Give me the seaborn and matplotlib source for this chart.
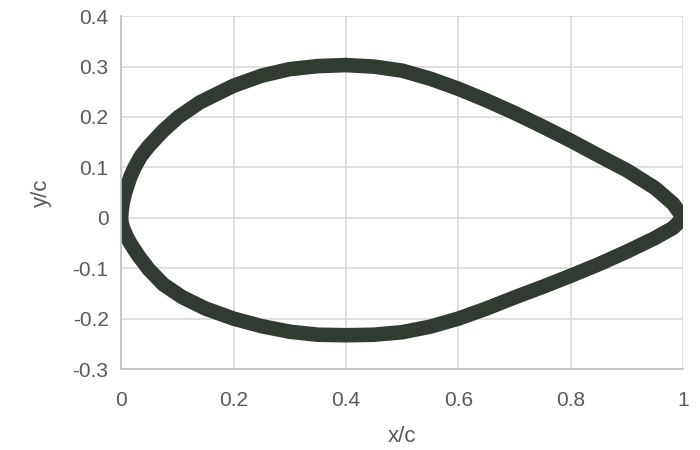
import numpy as np
import pandas as pd
import seaborn as sns
import matplotlib.pyplot as plt

# upper surface, leading edge -> trailing edge
x_upper = [0.0, 0.001, 0.003, 0.006, 0.01, 0.016, 0.024, 0.035, 0.049, 0.075, 0.102, 0.14, 0.2,
           0.25, 0.3, 0.35, 0.4, 0.45, 0.5, 0.55, 0.6, 0.65, 0.7, 0.75, 0.8, 0.852, 0.9, 0.95,
           0.982, 1.0]
y_upper = [0.0, 0.015, 0.03, 0.045, 0.06, 0.08, 0.1, 0.122, 0.142, 0.173, 0.2, 0.229, 0.262,
           0.282, 0.295, 0.301, 0.303, 0.3, 0.292, 0.276, 0.256, 0.233, 0.208, 0.181, 0.153, 0.122,
           0.094, 0.059, 0.028, 0.0]

# lower surface, leading edge -> trailing edge
x_lower = [0.0, 0.001, 0.004, 0.009, 0.016, 0.03, 0.049, 0.075, 0.108, 0.15, 0.2, 0.25, 0.3,
           0.35, 0.4, 0.45, 0.5, 0.55, 0.6, 0.65, 0.7, 0.75, 0.8, 0.85, 0.9, 0.95, 0.982, 1.0]
y_lower = [0.0, -0.011, -0.022, -0.035, -0.05, -0.074, -0.102, -0.132, -0.157, -0.18, -0.2,
           -0.215, -0.226, -0.232, -0.233, -0.232, -0.227, -0.216, -0.2, -0.18, -0.158, -0.137,
           -0.115, -0.092, -0.067, -0.04, -0.02, 0.0]

# one closed path: trailing edge -> upper -> leading edge -> lower -> trailing edge
df = pd.DataFrame({
    'x': x_upper[::-1] + x_lower[1:],
    'y': y_upper[::-1] + y_lower[1:],
})

sns.set_theme(style="whitegrid")
plt.rcParams['font.family'] = ['Liberation Sans', 'DejaVu Sans']

fig, ax = plt.subplots(figsize=(7, 4.5), dpi=100)
fig.subplots_adjust(left=0.173, right=0.976, top=0.964, bottom=0.18)

sns.lineplot(data=df, x='x', y='y', sort=False, estimator=None, ax=ax,
             color='#323b31', linewidth=10.5, solid_joinstyle='round', solid_capstyle='round')

ax.set_xlim(0, 1)
ax.set_ylim(-0.3, 0.4)
ax.set_xticks(np.arange(0, 1.01, 0.2))
ax.set_yticks(np.arange(-0.3, 0.41, 0.1))
ax.set_xticklabels(['0', '0.2', '0.4', '0.6', '0.8', '1'])
ax.set_yticklabels(['-0.3', '-0.2', '-0.1', '0', '0.1', '0.2', '0.3', '0.4'])

ax.grid(True, color='#d9d9d9', linewidth=1.2)
for s in ['top', 'right']:
    ax.spines[s].set_visible(False)
for s in ['left', 'bottom']:
    ax.spines[s].set_color('#bfbfbf')
    ax.spines[s].set_linewidth(1.2)
ax.tick_params(axis='both', length=5, width=1.2, color='#bfbfbf', labelcolor='#595959',
               labelsize=15)
ax.tick_params(axis='x', pad=11)
ax.tick_params(axis='y', pad=4)

ax.set_xlabel('x/c', fontsize=16, color='#595959', labelpad=11)
ax.set_ylabel('y/c', fontsize=16, color='#595959', labelpad=15)

plt.savefig('out.png', dpi=100)
